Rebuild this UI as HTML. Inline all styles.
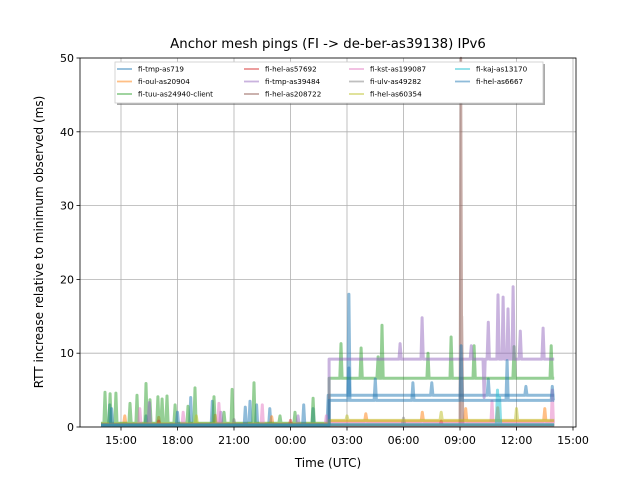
<!DOCTYPE html>
<html><head><meta charset="utf-8"><style>
body{margin:0;background:#fff;font-family:"Liberation Sans","DejaVu Sans",sans-serif}
svg text{font-family:"DejaVu Sans","Liberation Sans",sans-serif}
</style></head><body>
<svg id="chart" width="640" height="480" viewBox="0 0 640 480">
<rect width="640" height="480" fill="#fff"/>
<text x="328" y="48" font-size="13.3" text-anchor="middle">Anchor mesh pings (FI -&gt; de-ber-as39138) IPv6</text>
<g id="grid"></g><g id="series"></g>
<rect x="80" y="58" width="496" height="369" fill="none" stroke="#000" stroke-width="0.8"/>
<g id="xt"></g><g id="yt"></g>
<text x="328" y="467" font-size="12" text-anchor="middle">Time (UTC)</text>
<text transform="translate(43,242) rotate(-90)" font-size="12" text-anchor="middle">RTT increase relative to minimum observed (ms)</text>
<g id="legend"></g>
</svg>
<script>
// x values: hours since 12:00 UTC on day one
const xTickHours=[3,6,9,12,15,18,21,24,27];
const xTickLabels=["15:00","18:00","21:00","00:00","03:00","06:00","09:00","12:00","15:00"];
const yTicks=[0,10,20,30,40,50];
const seriesNames=["fi-tmp-as719","fi-oul-as20904","fi-tuu-as24940-client","fi-hel-as57692","fi-tmp-as39484","fi-hel-as208722","fi-kst-as199087","fi-ulv-as49282","fi-hel-as60354","fi-kaj-as13170","fi-hel-as6667"];
const seriesColors=["#1f77b4","#ff7f0e","#2ca02c","#d62728","#9467bd","#8c564b","#e377c2","#7f7f7f","#bcbd22","#17becf","#1f77b4"];
// baseline before / after step at 14.05h
const baseBefore=[0.3,0.4,0.5,0.2,0.3,0.2,0.3,0.2,0.4,0.2,0.3];
const baseAfter=[4.3,0.8,6.6,0.2,9.2,0.3,0.5,0.3,0.9,0.3,3.6];
const startHour=1.94, stepHour=14.05, endHour=26.0;
// spikes: [hour, value]
const spikes=[
 [[2.4,3.0],[4.33,1.5],[6.7,4.0],[7.85,3.5],[9.85,3.5],[10.2,3.0],[10.9,2.5],[13.2,2.5],[14.0,4.3],[15.1,18],[19.5,6],[22.5,6.5],[24.5,5.5]],
 [[3.2,1.5],[5.0,1.3],[8.0,1.6],[11.0,1.4],[16.0,1.8],[19.0,2],[21.3,2.5],[23.0,2.6],[25.5,2.5]],
 [[2.15,4.7],[2.42,4.5],[2.73,4.6],[3.48,3.2],[3.85,4.3],[4.33,5.9],[4.54,3.7],[4.96,4.1],[5.18,3.8],[5.44,4.2],[5.87,3.0],[6.56,2.8],[6.93,5.3],[7.94,4.1],[8.47,2.0],[8.9,5.1],[10.06,6.0],[11.44,1.5],[12.24,2.0],[13.2,3.9],[14.68,11.3],[15.75,10.7],[16.65,9.5],[16.86,13.8],[19.3,10],[20.53,12.2],[21.75,11],[23.87,10.9],[25.84,11]],
 [[5.0,0.8],[12.0,0.9],[20.0,0.8]],
 [[4.5,3.3],[8.3,2.0],[12.4,1.5],[17.82,11.3],[18.99,14.8],[21.6,11],[22.28,4],[22.5,14.2],[23.02,17.9],[23.29,17.6],[23.55,16],[23.82,19],[24.2,13],[25.41,13.4]],
 [[21.05,50],[21.1,15]],
 [[4.0,2.5],[6.3,2.0],[8.2,3.2],[10.5,3.0],[13.9,1.5],[22.7,3.5],[25.9,5.0]],
 [[9.0,1.0],[18.0,1.2]],
 [[7.0,1.5],[15.0,1.5],[20.0,2.0],[24.0,2.5]],
 [[22.99,5.0],[23.1,4.0]],
 [[2.5,2.5],[6.0,2.0],[9.6,2.7],[12.7,3.0],[15.1,8],[16.5,6.5],[18.5,6],[21.06,11],[23.5,9],[25.9,5.5]]
];
const X0=80,X1=576,Y0=427,Y1=58;
function xs(h){return 121+(h-3)*(573-121)/24;}
function ys(v){return Y0-(v/50)*(Y0-Y1);}
const NS="http://www.w3.org/2000/svg";
function mk(tag,attrs,parent){const e=document.createElementNS(NS,tag);for(const k in attrs)e.setAttribute(k,attrs[k]);parent.appendChild(e);return e;}
const grid=document.getElementById('grid'),xt=document.getElementById('xt'),yt=document.getElementById('yt');
xTickHours.forEach((h,i)=>{const x=xs(h);
 const g=mk('line',{x1:x,x2:x,y1:Y1,y2:Y0,stroke:'#b0b0b0','stroke-width':0.8},grid);
 
 
 mk('line',{x1:x,x2:x,y1:Y0,y2:Y0+3.5,stroke:'#000','stroke-width':0.8},xt);
 const t=mk('text',{x:x,y:Y0+17,'font-size':11,'text-anchor':'middle'},xt);t.textContent=xTickLabels[i];
 
 
});
yTicks.forEach(v=>{const y=ys(v);
 const g=mk('line',{x1:X0,x2:X1,y1:y,y2:y,stroke:'#b0b0b0','stroke-width':0.8},grid);
 
 
 mk('line',{x1:X0-3.5,x2:X0,y1:y,y2:y,stroke:'#000','stroke-width':0.8},yt);
 const t=mk('text',{x:X0-6,y:y+4,'font-size':11,'text-anchor':'end'},yt);t.textContent=v;
 
 
});
const sg=document.getElementById('series');
seriesNames.forEach((n,i)=>{
 const pts=[[startHour,baseBefore[i]]];
 const sp=spikes[i].slice().sort((a,b)=>a[0]-b[0]);
 let stepped=false;
 sp.forEach(s=>{
  if(!stepped&&s[0]>stepHour){pts.push([stepHour,baseBefore[i]],[stepHour,baseAfter[i]]);stepped=true;}
  const b=s[0]<stepHour?baseBefore[i]:baseAfter[i];
  pts.push([s[0]-0.06,b],[s[0],s[1]],[s[0]+0.06,b]);
 });
 if(!stepped)pts.push([stepHour,baseBefore[i]],[stepHour,baseAfter[i]]);
 pts.push([endHour,baseAfter[i]]);
 const p=mk('polyline',{points:pts.map(q=>xs(q[0]).toFixed(1)+','+ys(q[1]).toFixed(1)).join(' '),fill:'none',stroke:seriesColors[i],'stroke-width':i===5?2.5:3,'stroke-opacity':0.5,'stroke-linejoin':'round'},sg);
 
 
});
const lg=document.getElementById('legend');
mk('rect',{x:117,y:64,width:428,height:41,fill:'#555',opacity:0.5},lg);
mk('rect',{x:115,y:62,width:428,height:41,fill:'#fff',stroke:'#ccc','stroke-width':0.8},lg);
const colX=[117,244,349,455];
seriesNames.forEach((n,i)=>{const c=Math.floor(i/3),r=i%3;const x=colX[c],y=69+r*12.5;
 mk('line',{x1:x,x2:x+15,y1:y,y2:y,stroke:seriesColors[i],'stroke-width':1.8,'stroke-opacity':0.5},lg);
 const t=mk('text',{x:x+21,y:y+2.5,'font-size':7.2},lg);t.textContent=n;
 
 
});
</script>
</body></html>
